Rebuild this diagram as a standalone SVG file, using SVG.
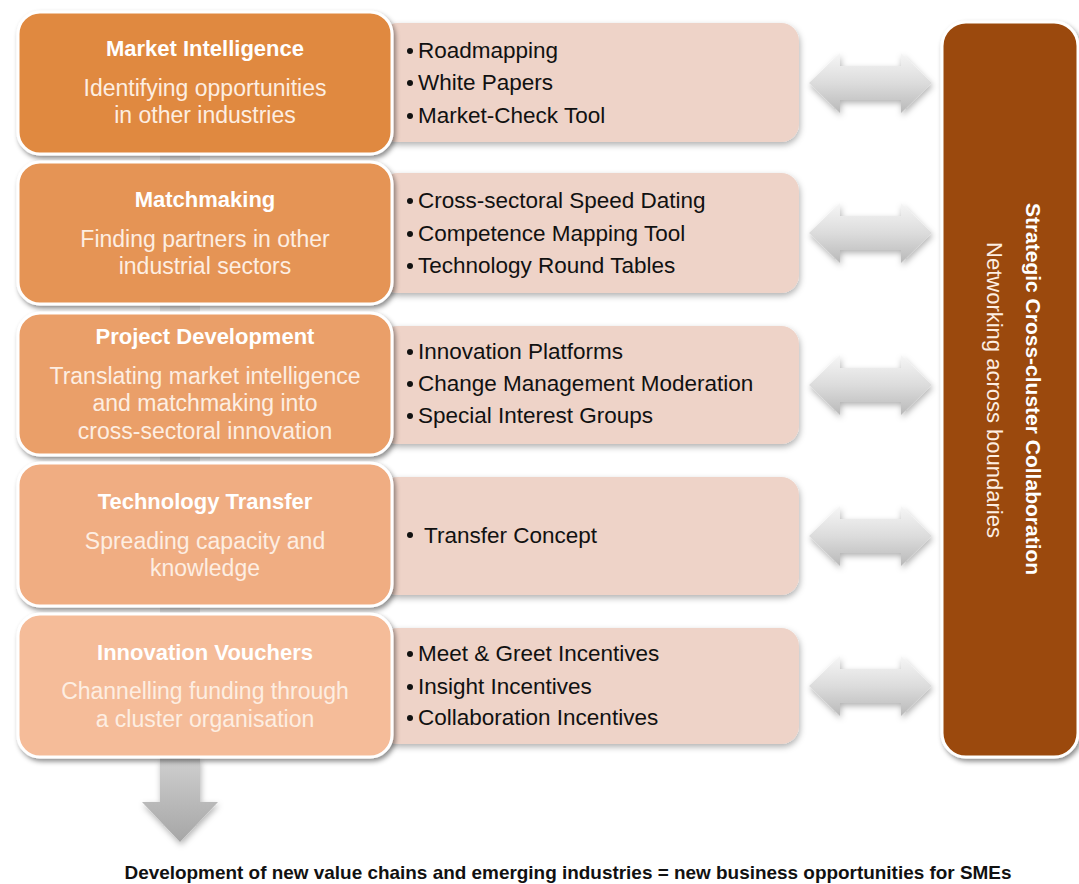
<svg xmlns="http://www.w3.org/2000/svg" width="1079" height="884" viewBox="0 0 1079 884">
<defs>
<filter id="sh" x="-10%" y="-10%" width="125%" height="130%">
<feDropShadow dx="2" dy="3" stdDeviation="2.5" flood-color="#000" flood-opacity="0.45"/>
</filter>
<filter id="sh2" x="-10%" y="-20%" width="125%" height="150%">
<feDropShadow dx="1" dy="3" stdDeviation="3" flood-color="#000" flood-opacity="0.3"/>
</filter>
<linearGradient id="ga" x1="0" y1="0" x2="0" y2="1">
<stop offset="0" stop-color="#f6f6f6"/>
<stop offset="0.5" stop-color="#dcdcdc"/>
<stop offset="1" stop-color="#b9b9b9"/>
</linearGradient>
<linearGradient id="gd" x1="0" y1="0" x2="0" y2="1">
<stop offset="0" stop-color="#cfcfcf"/>
<stop offset="1" stop-color="#a6a6a6"/>
</linearGradient>
<style>
.lb{stroke:#fff;stroke-width:3;filter:url(#sh)}
.rb{fill:#eed3c8;filter:url(#sh2)}
.arr{fill:url(#ga);filter:url(#sh2)}
.t{font-family:"Liberation Sans",Arial,sans-serif;font-weight:bold;font-size:22px;fill:#fff;text-anchor:middle}
.s{font-family:"Liberation Sans",Arial,sans-serif;font-size:23px;fill:#fdeee2;text-anchor:middle}
.li{font-family:"Liberation Sans",Arial,sans-serif;font-size:22.5px;fill:#111}
.bu{fill:#111}
</style>
</defs>
<rect width="1079" height="884" fill="#fff"/>

<g id="connectors">
<rect x="160" y="140" width="40" height="490" fill="#ececec"/>
<path class="arr" d="M809,83 L840,53 L840,66 L901,66 L901,53 L932,83 L901,113 L901,100 L840,100 L840,113 Z"/>
<path class="arr" d="M809,233 L840,203 L840,216 L901,216 L901,203 L932,233 L901,263 L901,250 L840,250 L840,263 Z"/>
<path class="arr" d="M809,385 L840,355 L840,368 L901,368 L901,355 L932,385 L901,415 L901,402 L840,402 L840,415 Z"/>
<path class="arr" d="M809,536 L840,506 L840,519 L901,519 L901,506 L932,536 L901,566 L901,553 L840,553 L840,566 Z"/>
<path class="arr" d="M809,686 L840,656 L840,669 L901,669 L901,656 L932,686 L901,716 L901,703 L840,703 L840,716 Z"/>
<path d="M160,758 L200,758 L200,802 L218,802 L180,842 L142,802 L160,802 Z" fill="url(#gd)" filter="url(#sh2)"/>
</g>

<g id="list1">
<rect class="rb" x="380" y="23" width="419" height="119" rx="18"/>
<circle class="bu" cx="410" cy="51" r="3"/><text class="li" x="418" y="58">Roadmapping</text>
<circle class="bu" cx="410" cy="83" r="3"/><text class="li" x="418" y="90">White Papers</text>
<circle class="bu" cx="410" cy="116" r="3"/><text class="li" x="418" y="123">Market-Check Tool</text>
</g>
<g id="list2">
<rect class="rb" x="380" y="173" width="419" height="120" rx="18"/>
<circle class="bu" cx="410" cy="201" r="3"/><text class="li" x="418" y="208">Cross-sectoral Speed Dating</text>
<circle class="bu" cx="410" cy="234" r="3"/><text class="li" x="418" y="241">Competence Mapping Tool</text>
<circle class="bu" cx="410" cy="266" r="3"/><text class="li" x="418" y="273">Technology Round Tables</text>
</g>
<g id="list3">
<rect class="rb" x="380" y="326" width="419" height="118" rx="18"/>
<circle class="bu" cx="410" cy="352" r="3"/><text class="li" x="418" y="359">Innovation Platforms</text>
<circle class="bu" cx="410" cy="384" r="3"/><text class="li" x="418" y="391">Change Management Moderation</text>
<circle class="bu" cx="410" cy="416" r="3"/><text class="li" x="418" y="423">Special Interest Groups</text>
</g>
<g id="list4">
<rect class="rb" x="380" y="477" width="419" height="118" rx="18"/>
<circle class="bu" cx="410" cy="535" r="3"/><text class="li" x="424" y="543">Transfer Concept</text>
</g>
<g id="list5">
<rect class="rb" x="380" y="628" width="419" height="116" rx="18"/>
<circle class="bu" cx="410" cy="654" r="3"/><text class="li" x="418" y="661">Meet &amp; Greet Incentives</text>
<circle class="bu" cx="410" cy="687" r="3"/><text class="li" x="418" y="694">Insight Incentives</text>
<circle class="bu" cx="410" cy="718" r="3"/><text class="li" x="418" y="725">Collaboration Incentives</text>
</g>

<g id="box1">
<rect class="lb" x="18" y="12" width="374" height="142" rx="22" fill="#e0893f"/>
<text class="t" x="205" y="56">Market Intelligence</text>
<text class="s" x="205" y="96">Identifying opportunities</text>
<text class="s" x="205" y="123">in other industries</text>
</g>
<g id="box2">
<rect class="lb" x="18" y="162" width="374" height="142" rx="22" fill="#e59454"/>
<text class="t" x="205" y="207">Matchmaking</text>
<text class="s" x="205" y="247">Finding partners in other</text>
<text class="s" x="205" y="274">industrial sectors</text>
</g>
<g id="box3">
<rect class="lb" x="18" y="313" width="374" height="142" rx="22" fill="#ea9f69"/>
<text class="t" x="205" y="344">Project Development</text>
<text class="s" x="205" y="384">Translating market intelligence</text>
<text class="s" x="205" y="411">and matchmaking into</text>
<text class="s" x="205" y="439">cross-sectoral innovation</text>
</g>
<g id="box4">
<rect class="lb" x="18" y="463" width="374" height="143" rx="22" fill="#f0ad82"/>
<text class="t" x="205" y="509">Technology Transfer</text>
<text class="s" x="205" y="549">Spreading capacity and</text>
<text class="s" x="205" y="576">knowledge</text>
</g>
<g id="box5">
<rect class="lb" x="18" y="614" width="374" height="143" rx="22" fill="#f5bc99"/>
<text class="t" x="205" y="660">Innovation Vouchers</text>
<text class="s" x="205" y="699">Channelling funding through</text>
<text class="s" x="205" y="727">a cluster organisation</text>
</g>

<g id="strategic">
<rect class="lb" x="942" y="22" width="136" height="735" rx="24" fill="#9b4a0b"/>
<text class="t" transform="translate(1026,389) rotate(90)" x="0" y="0" style="font-size:21px">Strategic Cross-cluster Collaboration</text>
<text class="s" transform="translate(987,390) rotate(90)" x="0" y="0" style="font-size:22px">Networking across boundaries</text>
</g>

<text id="footer" x="568" y="879" font-family="&quot;Liberation Sans&quot;, Arial, sans-serif" font-weight="bold" font-size="19" fill="#111" text-anchor="middle" textLength="887" lengthAdjust="spacingAndGlyphs">Development of new value chains and emerging industries = new business opportunities for SMEs</text>
</svg>
